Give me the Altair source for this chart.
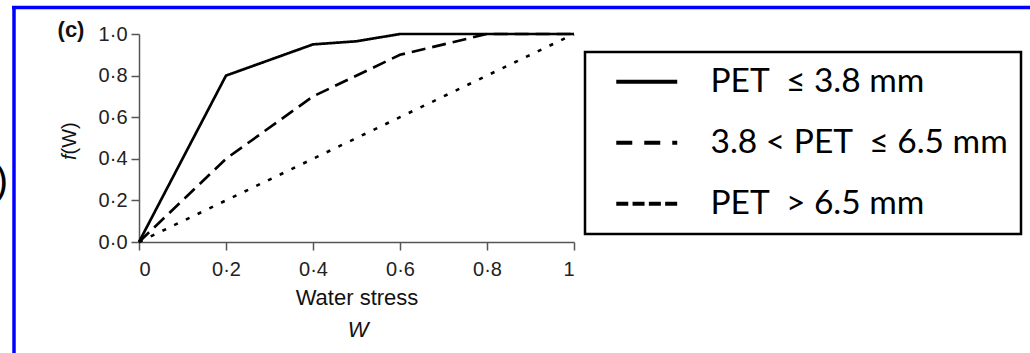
import altair as alt
import pandas as pd

# ---- data ----
series_names = ["PET\u00a0 ≤ 3.8 mm", "3.8 < PET\u00a0 ≤ 6.5 mm", "PET\u00a0 > 6.5 mm"]

w_solid = [0.0, 0.2, 0.4, 0.5, 0.6, 1.0]
f_solid = [0.0, 0.8, 0.95, 0.965, 1.0, 1.0]

w_dash = [0.0, 0.2, 0.4, 0.6, 0.8, 1.0]
f_dash = [0.0, 0.4, 0.7, 0.9, 1.0, 1.0]

w_dot = [0.0, 0.2, 0.4, 0.6, 0.8, 1.0]
f_dot = [0.0, 0.2, 0.4, 0.6, 0.8, 1.0]

x_ticks = [0, 0.2, 0.4, 0.6, 0.8, 1]
y_ticks = [0, 0.2, 0.4, 0.6, 0.8, 1.0]

panel_label = ["(c)"]
x_title = ["Water stress"]
x_symbol = ["W"]
y_title_f = ["f"]
y_title_rest = ["(W)"]
left_paren = [")"]

rows = []
for name, ws, fs in zip(series_names, [w_solid, w_dash, w_dot], [f_solid, f_dash, f_dot]):
    for w, f in zip(ws, fs):
        rows.append({"series": name, "W": w, "f": f})
df = pd.DataFrame(rows)

AX_FONT = "Liberation Sans"

x_enc = alt.X("W:Q", scale=alt.Scale(domain=[0, 1], nice=False, zero=False),
              axis=alt.Axis(values=x_ticks, title=None,
                            labelExpr="replace(format(datum.value, '~g'), '.', '·')",
                            labelPadding=9))
y_enc = alt.Y("f:Q", scale=alt.Scale(domain=[0, 1], nice=False),
              axis=alt.Axis(values=y_ticks, title=None,
                            labelExpr="replace(format(datum.value, '.1f'), '.', '·')",
                            labelPadding=4))

lines = alt.Chart(df).mark_line(color="black").encode(
    x=x_enc,
    y=y_enc,
    strokeDash=alt.StrokeDash("series:N",
                              scale=alt.Scale(domain=series_names,
                                              range=[[1, 0], [14, 7], [4, 9]]),
                              legend=None),
    strokeWidth=alt.StrokeWidth("series:N",
                                scale=alt.Scale(domain=series_names, range=[2.7, 2.6, 3.2]),
                                legend=None),
)

legend_layer = alt.Chart(df).transform_filter("false").mark_line(color="black").encode(
    x=alt.X("W:Q"),
    y=alt.Y("f:Q"),
    strokeDash=alt.StrokeDash("series:N",
                              scale=alt.Scale(domain=series_names,
                                              range=[[1, 0], [16, 12, 16, 12, 5, 100], [12, 4.3]]),
                              legend=alt.Legend(title=None, orient="none",
                                                legendX=446, legendY=18,
                                                symbolType="M-3,0H3", symbolSize=413,
                                                symbolStrokeWidth=4, symbolStrokeColor="black",
                                                labelFont="Lato", labelFontSize=33.5,
                                                labelColor="black", labelOffset=47,
                                                labelLimit=600,
                                                padding=13, rowPadding=26,
                                                symbolOffset=32,
                                                strokeColor="black", fillColor="white")),
)


def txt(vals, **kw):
    return alt.Chart(pd.DataFrame({"t": vals})).mark_text(**kw).encode(text="t:N")


one = pd.DataFrame({"a": [0]})

panel = txt(panel_label, font=AX_FONT, fontSize=22, fontWeight="bold", align="center",
            baseline="alphabetic", color="#111").encode(x=alt.value(-68), y=alt.value(3))
xt = txt(x_title, font=AX_FONT, fontSize=22, align="center", baseline="alphabetic",
         color="#111").encode(x=alt.value(218), y=alt.value(271))
xs = txt(x_symbol, font=AX_FONT, fontSize=22, fontStyle="italic", align="center",
         baseline="alphabetic", color="#111").encode(x=alt.value(219), y=alt.value(303))
yf = txt(y_title_f, font=AX_FONT, fontSize=20, fontStyle="italic", align="right", angle=270,
         baseline="alphabetic", color="#111").encode(x=alt.value(-63), y=alt.value(120.5))
yr = txt(y_title_rest, font=AX_FONT, fontSize=20, align="left", angle=270,
         baseline="alphabetic", color="#111").encode(x=alt.value(-63), y=alt.value(120.5))
paren = txt(left_paren, font=AX_FONT, fontSize=40, align="right", baseline="alphabetic",
            color="black").encode(x=alt.value(-131), y=alt.value(160))

frame_left = alt.Chart(one).mark_rule(color="#0000ff", strokeWidth=3.5).encode(
    x=alt.value(-125), y=alt.value(-28), y2=alt.value(319))
frame_top = alt.Chart(one).mark_rule(color="#0000ff", strokeWidth=3.5).encode(
    x=alt.value(-127), x2=alt.value(891), y=alt.value(-26.5))

chart = alt.layer(
    lines, legend_layer, panel, xt, xs, yf, yr, paren, frame_left, frame_top
).resolve_scale(strokeDash="independent").properties(
    width=435, height=208,
    padding={"left": 139, "top": 34, "right": 456, "bottom": 111},
    autosize=alt.AutoSizeParams(type="none"),
    background="white",
).configure_view(stroke=None).configure_axis(
    grid=False, domainColor="#555", tickColor="#555", domainWidth=1.5, tickWidth=1.5,
    tickSize=8, labelFont=AX_FONT, labelFontSize=20, labelColor="#222",
).configure_legend(strokeWidth=2.5)

chart.save("out.html", embed_options={"renderer": "svg", "actions": False})
